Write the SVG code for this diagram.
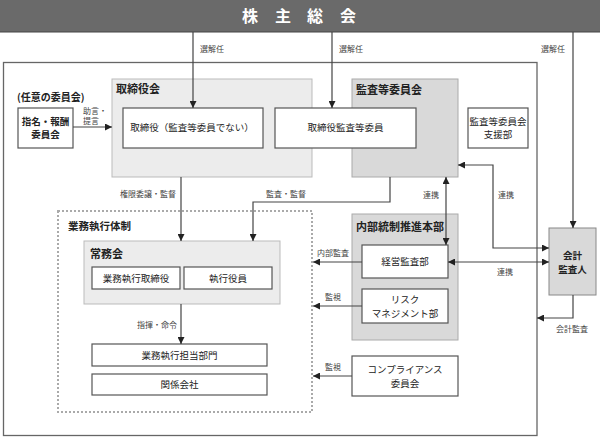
<svg xmlns="http://www.w3.org/2000/svg" width="600" height="437" viewBox="0 0 600 437">
<defs>
<marker id="ah" viewBox="0 0 10 10" refX="10" refY="5" markerWidth="7" markerHeight="7" markerUnits="userSpaceOnUse" orient="auto-start-reverse">
<path d="M0,0 L10,5 L0,10 Z" fill="#222"/>
</marker>
<style>
text{font-family:"Noto Sans CJK JP","Noto Sans",sans-serif;fill:#222}
.lbl{font-size:8px;fill:#444}
.bx{fill:#fff;stroke:#555;stroke-width:1.2}
.lg{fill:#ececec;stroke:#bbb;stroke-width:1}
.dg{fill:#d9d9d9;stroke:#aaa;stroke-width:1}
.t{font-size:9.5px;text-anchor:middle}
.h{font-size:11px;font-weight:bold}
.c{fill:none;stroke:#444;stroke-width:1.2}
</style>
</defs>
<rect width="600" height="437" fill="#fff"/>
<g id="shareholders">
<rect x="0" y="0" width="600" height="32" fill="#6a6a6a"/>
<line x1="0" y1="32" x2="600" y2="32" stroke="#444" stroke-width="1"/>
<text x="250" y="22" font-size="16" font-weight="bold" text-anchor="middle" style="fill:#fff">株</text>
<text x="283" y="22" font-size="16" font-weight="bold" text-anchor="middle" style="fill:#fff">主</text>
<text x="315" y="22" font-size="16" font-weight="bold" text-anchor="middle" style="fill:#fff">総</text>
<text x="348" y="22" font-size="16" font-weight="bold" text-anchor="middle" style="fill:#fff">会</text>
</g>
<g id="company">
<rect x="3.5" y="62.5" width="533.5" height="373" fill="none" stroke="#666" stroke-width="1.3"/>
</g>
<g id="board">
<rect class="lg" x="112" y="79" width="200" height="98"/>
<text class="h" x="116" y="93">取締役会</text>
</g>
<g id="audit-committee">
<rect class="dg" x="352" y="79" width="106" height="98"/>
<text class="h" x="356" y="94">監査等委員会</text>
</g>
<g id="directors">
<rect class="bx" x="123" y="108" width="140" height="40"/>
<text class="t" x="192" y="131">取締役（監査等委員でない）</text>
</g>
<g id="audit-directors">
<rect class="bx" x="275" y="108" width="141" height="40"/>
<text class="t" x="345.5" y="131">取締役監査等委員</text>
</g>
<g id="audit-support">
<rect class="bx" x="468" y="108" width="60" height="40"/>
<text class="t" x="498" y="125" font-size="9">監査等委員会</text>
<text class="t" x="498" y="138" font-size="9">支援部</text>
</g>
<g id="nomination">
<text x="17" y="101" font-size="10" font-weight="bold">(任意の委員会)</text>
<rect class="bx" x="18" y="108" width="55" height="40"/>
<text class="t" x="45.5" y="125" font-weight="bold">指名・報酬</text>
<text class="t" x="45.5" y="138" font-weight="bold">委員会</text>
</g>
<g id="exec-system">
<rect x="58" y="211" width="254" height="201" fill="none" stroke="#aaa" stroke-width="2" stroke-dasharray="2,2"/>
<text x="68" y="230" font-size="10.5" font-weight="bold">業務執行体制</text>
</g>
<g id="managing-committee">
<rect class="lg" x="84" y="241" width="196" height="63"/>
<text class="h" x="90" y="258" font-size="10.5">常務会</text>
</g>
<g id="exec-directors">
<rect class="bx" x="92" y="267" width="88" height="22"/>
<text class="t" x="136" y="281.5" font-size="9">業務執行取締役</text>
</g>
<g id="officers">
<rect class="bx" x="184" y="267" width="88" height="22"/>
<text class="t" x="228" y="281.5" font-size="9">執行役員</text>
</g>
<g id="exec-depts">
<rect class="bx" x="92" y="344" width="175" height="22"/>
<text class="t" x="179.5" y="358.5" font-size="9">業務執行担当部門</text>
</g>
<g id="affiliates">
<rect class="bx" x="92" y="374" width="175" height="21"/>
<text class="t" x="179.5" y="388" font-size="9">関係会社</text>
</g>
<g id="internal-control">
<rect class="dg" x="352" y="214" width="106" height="126"/>
<text class="h" x="356" y="231">内部統制推進本部</text>
</g>
<g id="mgmt-audit">
<rect class="bx" x="362" y="245" width="86" height="33"/>
<text class="t" x="405" y="265">経営監査部</text>
</g>
<g id="risk">
<rect class="bx" x="362" y="289" width="86" height="34"/>
<text class="t" x="405" y="303">リスク</text>
<text class="t" x="405" y="317">マネジメント部</text>
</g>
<g id="compliance">
<rect class="bx" x="352" y="356" width="106" height="40"/>
<text class="t" x="405" y="373">コンプライアンス</text>
<text class="t" x="405" y="387">委員会</text>
</g>
<g id="accounting-auditor">
<rect class="dg" x="549" y="228" width="47" height="67" style="stroke:#888"/>
<text class="t" x="572.5" y="259" font-size="10" font-weight="bold">会計</text>
<text class="t" x="572.5" y="273" font-size="10" font-weight="bold">監査人</text>
</g>
<g id="connectors">
<path class="c" d="M193,32 V108" marker-end="url(#ah)"/>
<path class="c" d="M332,32 V108" marker-end="url(#ah)"/>
<path class="c" d="M573,32 V228" marker-end="url(#ah)"/>
<path class="c" d="M73,127 H112" marker-end="url(#ah)"/>
<path class="c" d="M181,177 V241" marker-end="url(#ah)"/>
<path class="c" d="M390,177 V202 H253 V241" marker-end="url(#ah)"/>
<path class="c" d="M181,304 V344" marker-end="url(#ah)"/>
<path class="c" d="M446,177 V245" marker-start="url(#ah)" marker-end="url(#ah)"/>
<path class="c" d="M458,165 H493 V248 H549" marker-start="url(#ah)" marker-end="url(#ah)"/>
<path class="c" d="M448,262 H549" marker-start="url(#ah)" marker-end="url(#ah)"/>
<path class="c" d="M362,262 H313" marker-end="url(#ah)"/>
<path class="c" d="M362,306 H313" marker-end="url(#ah)"/>
<path class="c" d="M352,376 H313" marker-end="url(#ah)"/>
<path class="c" d="M573,295 V318 H537" marker-end="url(#ah)"/>
<text class="lbl" x="200" y="52">選解任</text>
<text class="lbl" x="339" y="52">選解任</text>
<text class="lbl" x="541" y="52">選解任</text>
<text class="lbl" x="83" y="114">助言・</text>
<text class="lbl" x="83" y="124">提言</text>
<text class="lbl" x="120" y="197">権限委譲・監督</text>
<text class="lbl" x="266" y="197">監査・監督</text>
<text class="lbl" x="423" y="198">連携</text>
<text class="lbl" x="498" y="198">連携</text>
<text class="lbl" x="497" y="275">連携</text>
<text class="lbl" x="137" y="328">指揮・命令</text>
<text class="lbl" x="317" y="256">内部監査</text>
<text class="lbl" x="325" y="300">監視</text>
<text class="lbl" x="325" y="370">監視</text>
<text class="lbl" x="556" y="332">会計監査</text>
</g>
</svg>
